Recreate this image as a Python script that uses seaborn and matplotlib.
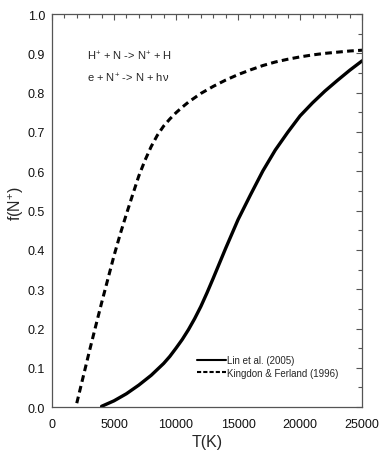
import matplotlib
matplotlib.use("Agg")
import matplotlib.pyplot as plt
from matplotlib.ticker import MultipleLocator, FormatStrFormatter
import seaborn as sns
import pandas as pd

# Lin et al. (2005)
T_lin = [4000, 5000, 6000, 7000, 8000, 9000, 9500, 10000, 10500, 11000, 11500, 12000,
         12500, 13000, 13500, 14000, 15000, 16000, 17000, 18000, 19000, 20000, 21000,
         22000, 23000, 24000, 25000]
f_lin = [0.002, 0.016, 0.034, 0.056, 0.081, 0.111, 0.129, 0.150, 0.172, 0.197, 0.225,
         0.256, 0.291, 0.328, 0.366, 0.404, 0.477, 0.540, 0.601, 0.654, 0.699, 0.741,
         0.774, 0.804, 0.831, 0.857, 0.881]

# Kingdon & Ferland (1996)
T_kf = [2000, 2500, 3000, 3500, 4000, 4500, 5000, 5500, 6000, 6500, 7000, 7500, 8000,
        8500, 9000, 9500, 10000, 10500, 11000, 12000, 13000, 14000, 15000, 16000,
        17000, 18000, 19000, 20000, 21000, 22000, 23000, 24000, 25000]
f_kf = [0.010, 0.075, 0.140, 0.203, 0.265, 0.325, 0.385, 0.440, 0.491, 0.540, 0.588,
        0.628, 0.663, 0.692, 0.715, 0.733, 0.749, 0.763, 0.776, 0.798, 0.816, 0.832,
        0.846, 0.858, 0.869, 0.878, 0.885, 0.891, 0.896, 0.900, 0.903, 0.906, 0.908]

labels = ["Lin et al. (2005)", "Kingdon & Ferland (1996)"]

sns.set_style("white")
plt.rcParams['font.family'] = ['Liberation Sans', 'DejaVu Sans']
plt.rcParams['mathtext.fontset'] = 'custom'
plt.rcParams['mathtext.rm'] = 'Liberation Sans'
plt.rcParams['mathtext.it'] = 'Liberation Sans'

df_lin = pd.DataFrame({"T": T_lin, "f": f_lin})
df_kf = pd.DataFrame({"T": T_kf, "f": f_kf})

fig = plt.figure(figsize=(3.82, 4.56), dpi=100)
ax = fig.add_axes([0.136, 0.105, 0.812, 0.862])

sns.lineplot(data=df_lin, x="T", y="f", ax=ax, color="black", lw=2.4,
             label=labels[0])
sns.lineplot(data=df_kf, x="T", y="f", ax=ax, color="black", lw=2.2,
             label=labels[1])
ax.lines[0].set_solid_joinstyle('round')
ax.lines[1].set_dashes([2.2, 1.4])
ax.lines[1].set_dash_joinstyle('round')

ax.set_xlim(0, 25000)
ax.set_ylim(0, 1.0)
ax.xaxis.set_major_locator(MultipleLocator(5000))
ax.xaxis.set_minor_locator(MultipleLocator(1000))
ax.yaxis.set_major_locator(MultipleLocator(0.1))
ax.yaxis.set_minor_locator(MultipleLocator(0.05))
ax.yaxis.set_major_formatter(FormatStrFormatter('%.1f'))

ax.tick_params(which='both', direction='in', top=True, right=True,
               color='#555555', width=0.8, labelsize=9, labelcolor='#111111')
ax.tick_params(which='major', length=4)
ax.tick_params(which='minor', length=3)
ax.tick_params(axis='x', which='major', pad=8)
ax.tick_params(axis='y', which='major', pad=5)
for s in ax.spines.values():
    s.set_color('#555555')
    s.set_linewidth(0.9)

ax.set_xlabel("T(K)", fontsize=11.5, labelpad=3)
ax.set_ylabel("f(N$^{+}$)", fontsize=11.5, labelpad=0)
ax.yaxis.set_label_coords(-0.085, 0.52)

ax.text(0.113, 0.895, "H$^{+}$ + N -> N$^{+}$ + H", transform=ax.transAxes,
        fontsize=8, va='center', ha='left')
ax.text(0.113, 0.839, "e + N$^{+}$ -> N + h\u03bd", transform=ax.transAxes,
        fontsize=8, va='center', ha='left')

leg = ax.legend(loc='lower right', bbox_to_anchor=(0.94, 0.062), frameon=False,
                fontsize=7, handlelength=3.0, handletextpad=0.15,
                labelspacing=0.25, borderpad=0)
for ln in leg.get_lines():
    ln.set_linewidth(1.5)
leg.get_lines()[1].set_dashes([2.0, 1.0])

fig.savefig("out.png", dpi=100)
